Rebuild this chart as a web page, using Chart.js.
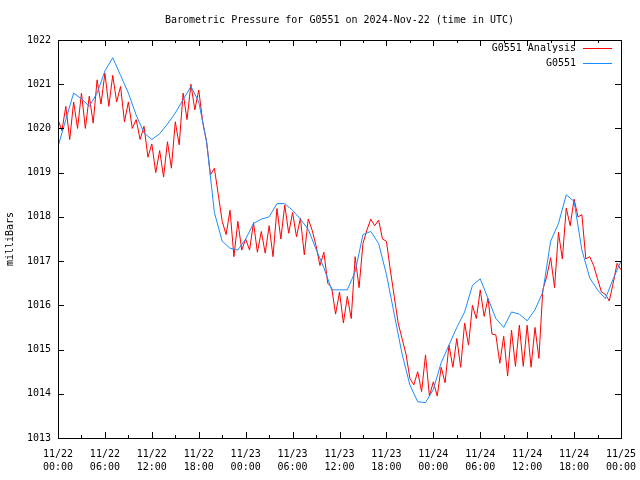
<!DOCTYPE html>
<html>
<head>
<meta charset="utf-8">
<script src="https://cdn.jsdelivr.net/npm/chart.js@4.4.1/dist/chart.umd.min.js"></script>
<style>
  html, body { margin: 0; padding: 0; background: #fff; }
  #wrap { width: 640px; height: 480px; }
</style>
</head>
<body>
<div id="wrap"><canvas id="chart" width="640" height="480"></canvas></div>
<script>
const chartTitle = "Barometric Pressure for G0551 on 2024-Nov-22 (time in UTC)";
const yTitle = "milliBars";
const xTickLabels = [
  ["11/22", "00:00"], ["11/22", "06:00"], ["11/22", "12:00"], ["11/22", "18:00"],
  ["11/23", "00:00"], ["11/23", "06:00"], ["11/23", "12:00"], ["11/23", "18:00"],
  ["11/24", "00:00"], ["11/24", "06:00"], ["11/24", "12:00"], ["11/24", "18:00"],
  ["11/25", "00:00"]
];
const seriesNames = ["G0551 Analysis", "G0551"];
const seriesColors = ["#ff0000", "#1a8cff"];

// analysis, every 30 minutes from 11/22 00:00
const analysisValues = [
  1020.2, 1019.95, 1020.5, 1019.75, 1020.6, 1020.0, 1020.8, 1020.0, 1020.73, 1020.12,
  1021.1, 1020.55, 1021.25, 1020.5, 1021.2, 1020.6, 1020.95, 1020.15, 1020.6, 1020.0,
  1020.2, 1019.75, 1020.05, 1019.35, 1019.65, 1019.0, 1019.5, 1018.9, 1019.7, 1019.1,
  1020.15, 1019.63, 1020.8, 1020.2, 1021.0, 1020.42, 1020.87, 1020.15, 1019.7, 1018.95,
  1019.1, 1018.5, 1017.9, 1017.6, 1018.15, 1017.1, 1017.9, 1017.25, 1017.5, 1017.25,
  1017.87, 1017.2, 1017.67, 1017.18, 1017.8, 1017.1, 1018.19, 1017.5, 1018.27, 1017.63,
  1018.1, 1017.55, 1017.97, 1017.14, 1017.95, 1017.7, 1017.35, 1016.9, 1017.2, 1016.5,
  1016.4, 1015.8, 1016.3, 1015.6, 1016.2, 1015.7, 1017.1, 1016.4, 1017.4, 1017.7,
  1017.95, 1017.8, 1017.93, 1017.5, 1017.45, 1016.8, 1016.2, 1015.6, 1015.25, 1014.9,
  1014.35, 1014.2, 1014.5, 1014.05, 1014.88, 1013.95, 1014.27, 1013.95, 1014.6, 1014.25,
  1015.1, 1014.6, 1015.25, 1014.6, 1015.6, 1015.1, 1016.0, 1015.7, 1016.35, 1015.75,
  1016.16, 1015.35, 1015.33, 1014.69, 1015.3, 1014.4, 1015.44, 1014.62, 1015.55, 1014.62,
  1015.55, 1014.6, 1015.5, 1014.8, 1016.35, 1016.65, 1017.08, 1016.4, 1017.65, 1017.05,
  1018.2, 1017.8, 1018.4, 1018.0, 1018.05, 1017.05, 1017.1, 1016.9, 1016.6, 1016.3,
  1016.25, 1016.1, 1016.5, 1016.95, 1016.8
];

// station, hourly from 11/22 00:00
const stationValues = [
  1019.59, 1020.2, 1020.8, 1020.67, 1020.5, 1020.8, 1021.3, 1021.6, 1021.2, 1020.8,
  1020.3, 1019.9, 1019.75, 1019.88, 1020.1, 1020.35, 1020.65, 1020.95, 1020.6, 1019.7,
  1018.1, 1017.45, 1017.29, 1017.25, 1017.5, 1017.85, 1017.95, 1018.0, 1018.3, 1018.3,
  1018.15, 1017.95, 1017.72, 1017.27, 1016.85, 1016.35, 1016.35, 1016.35, 1016.76, 1017.6,
  1017.67, 1017.4, 1016.7, 1015.8, 1014.9, 1014.2, 1013.82, 1013.8, 1014.1, 1014.7,
  1015.1, 1015.5, 1015.85, 1016.45, 1016.6, 1016.15, 1015.7, 1015.5, 1015.85, 1015.8,
  1015.65, 1015.9, 1016.3, 1017.45, 1017.85, 1018.5, 1018.35, 1017.25, 1016.62, 1016.35,
  1016.15, 1016.6, 1017.0
];

const monoFont = "'DejaVu Sans Mono', 'Liberation Mono', monospace";

// frame, inward ticks, title and legend drawn gnuplot style
const gnuplotFrame = {
  id: 'gnuplotFrame',
  afterDatasetsDraw(chart) {
    const { ctx, chartArea: a, scales: { x, y } } = chart;
    ctx.save();
    ctx.strokeStyle = '#000';
    ctx.lineWidth = 1;
    ctx.strokeRect(a.left + 0.5, a.top + 0.5, a.right - a.left, a.bottom - a.top);

    ctx.beginPath();
    const xt = x.ticks.map(t => t.value);
    xt.forEach((v, i) => {
      const px = Math.round(x.getPixelForValue(v)) + 0.5;
      ctx.moveTo(px, a.bottom); ctx.lineTo(px, a.bottom - 6);
      ctx.moveTo(px, a.top); ctx.lineTo(px, a.top + 6);
      if (i < xt.length - 1) {
        const mx = Math.round(x.getPixelForValue((v + xt[i + 1]) / 2)) + 0.5;
        ctx.moveTo(mx, a.bottom); ctx.lineTo(mx, a.bottom - 3);
        ctx.moveTo(mx, a.top); ctx.lineTo(mx, a.top + 3);
      }
    });
    y.ticks.forEach(t => {
      const py = Math.round(y.getPixelForValue(t.value)) + 0.5;
      ctx.moveTo(a.left, py); ctx.lineTo(a.left + 6, py);
      ctx.moveTo(a.right, py); ctx.lineTo(a.right - 6, py);
    });
    ctx.stroke();

    ctx.fillStyle = '#000';
    ctx.font = '10px ' + monoFont;
    ctx.textAlign = 'center';
    ctx.textBaseline = 'middle';
    ctx.fillText(chartTitle, (a.left + a.right) / 2, 20);

    // legend
    ctx.textAlign = 'right';
    chart.data.datasets.forEach((ds, i) => {
      const ly = 48 + i * 15;
      ctx.fillStyle = '#000';
      ctx.fillText(ds.label, a.right - 45, ly);
      ctx.strokeStyle = ds.borderColor;
      ctx.beginPath();
      ctx.moveTo(a.right - 38, Math.round(ly) + 0.5);
      ctx.lineTo(a.right - 9, Math.round(ly) + 0.5);
      ctx.stroke();
    });
    ctx.restore();
  }
};

new Chart(document.getElementById('chart'), {
  type: 'line',
  data: {
    datasets: [
      {
        label: seriesNames[0],
        data: analysisValues.map((v, i) => ({ x: i * 0.5, y: v })),
        borderColor: seriesColors[0],
        borderWidth: 1,
        pointRadius: 0,
        fill: false,
        tension: 0,
        order: 1
      },
      {
        label: seriesNames[1],
        data: stationValues.map((v, i) => ({ x: i, y: v })),
        borderColor: seriesColors[1],
        borderWidth: 1,
        pointRadius: 0,
        fill: false,
        tension: 0,
        order: 0
      }
    ]
  },
  options: {
    responsive: false,
    animation: false,
    devicePixelRatio: 1,
    layout: { padding: { top: 40, right: 19, left: 0, bottom: 0 } },
    plugins: {
      legend: { display: false },
      title: { display: false },
      tooltip: { enabled: false }
    },
    scales: {
      x: {
        type: 'linear',
        min: 0,
        max: 72,
        afterFit: s => {
          s.height = 42;
          s.paddingLeft = 0;
          s.paddingRight = 0;
        },
        grid: { display: false, drawTicks: false },
        border: { display: false },
        ticks: {
          stepSize: 6,
          autoSkip: false,
          maxRotation: 0,
          padding: 10,
          color: '#000',
          font: { family: monoFont, size: 10, lineHeight: 1.3 },
          callback: (v, i) => xTickLabels[i]
        }
      },
      y: {
        min: 1013,
        max: 1022,
        afterFit: s => { s.width = 58; },
        grid: { display: false, drawTicks: false },
        border: { display: false },
        title: {
          display: true,
          text: yTitle,
          color: '#000',
          padding: { top: 4, bottom: 0 },
          font: { family: monoFont, size: 10 }
        },
        ticks: {
          stepSize: 1,
          padding: 7,
          color: '#000',
          font: { family: monoFont, size: 10 },
          callback: v => String(v)
        }
      }
    }
  },
  plugins: [gnuplotFrame]
});
</script>
</body>
</html>
